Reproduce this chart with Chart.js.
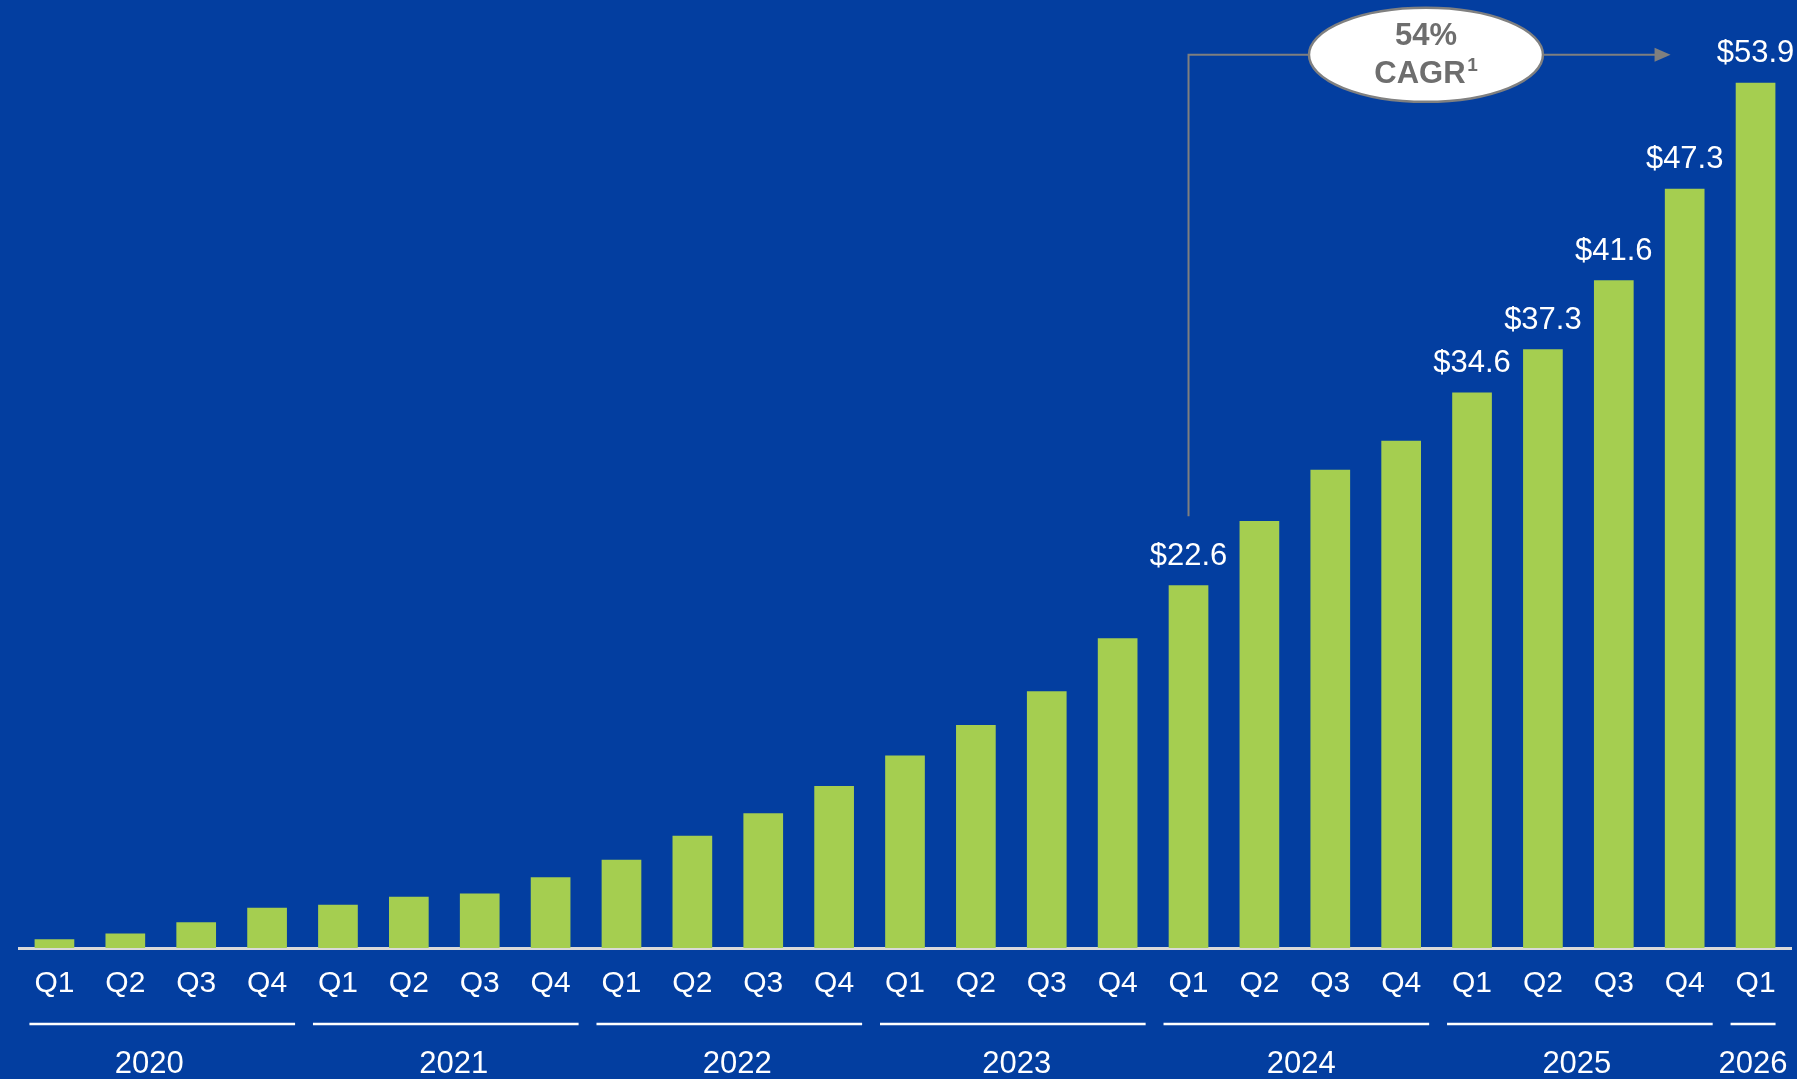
<!DOCTYPE html>
<html>
<head>
<meta charset="utf-8">
<script src="https://cdn.jsdelivr.net/npm/chart.js@4/dist/chart.umd.min.js"></script>
<style>
  html, body { margin: 0; padding: 0; background: #033ea0; }
  #wrap { width: 1797px; height: 1079px; position: relative; }
</style>
</head>
<body>
<div id="wrap"><canvas id="chart"></canvas></div>
<script>
const quarters = ["Q1","Q2","Q3","Q4","Q1","Q2","Q3","Q4","Q1","Q2","Q3","Q4","Q1","Q2","Q3","Q4","Q1","Q2","Q3","Q4","Q1","Q2","Q3","Q4","Q1"]
const revenue = [0.55, 0.9, 1.6, 2.5, 2.7, 3.2, 3.4, 4.4, 5.5, 7.0, 8.4, 10.1, 12.0, 13.9, 16.0, 19.3, 22.6, 26.6, 29.8, 31.6, 34.6, 37.3, 41.6, 47.3, 53.9]
const years = ["2020", "2021", "2022", "2023", "2024", "2025", "2026"]
const yearStart = [0, 4, 8, 12, 16, 20, 24]
const yearEnd = [3, 7, 11, 15, 19, 23, 24]
const labelled = [16, 20, 21, 22, 23, 24]
const cagrText = ["54%", "CAGR"]
const cagrFrom = 16
const cagrTo = 24

const font = "'Liberation Sans', Arial, sans-serif"

// value labels, year groups and the CAGR bubble
const extras = {
  id: "extras",
  afterDraw(chart) {
    const ctx = chart.ctx
    const x = chart.scales.x
    const y = chart.scales.y
    ctx.save()

    ctx.fillStyle = "#ffffff"
    ctx.font = "31px " + font
    ctx.textAlign = "center"
    ctx.textBaseline = "middle"
    labelled.forEach(function(i){
      ctx.fillText("$" + revenue[i].toFixed(1), x.getPixelForValue(i), y.getPixelForValue(revenue[i]) - 29)
    })

    // year underlines + names (names sit a little off centre in the original)
    const nudge = [-13, 8, 8, 4, 5, -3, 0]
    const bottom = chart.chartArea.bottom
    ctx.strokeStyle = "#ffffff"
    ctx.lineWidth = 2.5
    years.forEach(function(yr, k){
      const a = x.getPixelForValue(yearStart[k]) - 25
      const b = x.getPixelForValue(yearEnd[k]) + 28
      const bb = k == years.length - 1 ? b - 8 : b
      ctx.beginPath()
      ctx.moveTo(a, bottom + 76)
      ctx.lineTo(bb, bottom + 76)
      ctx.stroke()
      const cx = (a + bb) / 2 + nudge[k]
      ctx.fillText(yr, Math.min(cx, 1797 - 37), bottom + 116)
    })

    // CAGR connector
    const x0 = x.getPixelForValue(cagrFrom)
    const yTop = y.getPixelForValue(revenue[cagrTo]) - 28
    const yLow = y.getPixelForValue(revenue[cagrFrom]) - 69
    const cx = x.getPixelForValue(19.35)
    const rx = 117, ry = 47
    const tip = x.getPixelForValue(cagrTo) - 85
    ctx.strokeStyle = "#7f7f7f"
    ctx.lineWidth = 2
    ctx.beginPath()
    ctx.moveTo(x0, yLow)
    ctx.lineTo(x0, yTop)
    ctx.lineTo(cx - rx, yTop)
    ctx.moveTo(cx + rx, yTop)
    ctx.lineTo(tip - 14, yTop)
    ctx.stroke()
    ctx.fillStyle = "#7f7f7f"
    ctx.beginPath()
    ctx.moveTo(tip, yTop)
    ctx.lineTo(tip - 16, yTop - 7)
    ctx.lineTo(tip - 16, yTop + 7)
    ctx.closePath()
    ctx.fill()

    ctx.fillStyle = "#ffffff"
    ctx.strokeStyle = "#808080"
    ctx.lineWidth = 2.5
    ctx.beginPath()
    ctx.ellipse(cx, yTop, rx, ry, 0, 0, Math.PI * 2)
    ctx.fill()
    ctx.stroke()

    ctx.fillStyle = "#6e6e6e"
    ctx.font = "bold 31px " + font
    ctx.fillText(cagrText[0], cx, yTop - 18)
    const w = ctx.measureText(cagrText[1]).width
    ctx.fillText(cagrText[1], cx - 6, yTop + 20)
    ctx.font = "bold 19px " + font
    ctx.fillText("1", cx - 6 + w / 2 + 7, yTop + 11)
    ctx.restore()
  }
}

const ctx = document.getElementById("chart").getContext("2d")
const myChart = new Chart(ctx, {
  type: "bar",
  data: {
    labels: quarters,
    datasets: [{
      data: revenue,
      backgroundColor: "#a5ce50",
      borderWidth: 0,
      barPercentage: 0.56,
      categoryPercentage: 1
    }]
  },
  options: {
    responsive: true,
    maintainAspectRatio: false,
    animation: false,
    layout: { padding: { top: 17, left: 19, right: 6, bottom: 59 } },
    plugins: { legend: { display: false }, tooltip: { enabled: false } },
    scales: {
      x: {
        grid: { display: false, drawTicks: false },
        border: { display: true, color: "#d9d9d9", width: 3 },
        ticks: { color: "#ffffff", font: { family: font, size: 30 }, padding: 18, maxRotation: 0, autoSkip: false }
      },
      y: {
        display: false,
        min: 0,
        max: 58
      }
    }
  },
  plugins: [extras]
})
</script>
</body>
</html>
